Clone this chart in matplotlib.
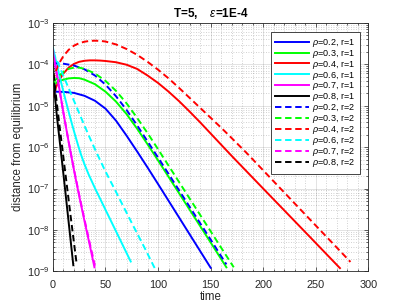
import matplotlib
matplotlib.use("Agg")
import matplotlib.pyplot as plt
from matplotlib.ticker import MultipleLocator, LogLocator, NullFormatter
import numpy as np

plt.rcParams['font.family'] = ['Liberation Sans', 'DejaVu Sans']
plt.rcParams['mathtext.fontset'] = 'custom'
plt.rcParams['mathtext.rm'] = 'Liberation Sans'
plt.rcParams['mathtext.it'] = 'Liberation Sans:italic'

# ---- data: time and log10(distance from equilibrium) ----
labels = [r"$\rho$=0.2, r=1", r"$\rho$=0.3, r=1", r"$\rho$=0.4, r=1",
          r"$\rho$=0.6, r=1", r"$\rho$=0.7, r=1", r"$\rho$=0.8, r=1",
          r"$\rho$=0.2, r=2", r"$\rho$=0.3, r=2", r"$\rho$=0.4, r=2",
          r"$\rho$=0.6, r=2", r"$\rho$=0.7, r=2", r"$\rho$=0.8, r=2"]

t_b1 = [0, 10, 20, 30, 40, 50, 60, 70, 80, 90, 100, 125, 150]
e_b1 = [-4.66, -4.665, -4.69, -4.76, -4.88, -5.07, -5.36, -5.72, -6.10, -6.49, -6.89, -7.90, -8.91]

t_g1 = [0, 5, 10, 15, 20, 25, 30, 40, 50, 60, 70, 80, 90, 100, 125, 150, 165]
e_g1 = [-4.50, -4.42, -4.37, -4.34, -4.33, -4.335, -4.37, -4.48, -4.66, -4.90, -5.20, -5.55, -5.93, -6.32, -7.31, -8.30, -8.90]

t_r1 = [0, 3, 6, 10, 15, 20, 25, 30, 35, 40, 45, 50, 60, 70, 80, 90, 100, 110, 120, 130, 140, 150, 160, 170, 200, 240, 273]
e_r1 = [-4.78, -4.55, -4.38, -4.22, -4.08, -3.99, -3.94, -3.915, -3.905, -3.905, -3.91, -3.92, -3.95, -4.01, -4.11,
        -4.27, -4.45, -4.66, -4.89, -5.14, -5.40, -5.67, -5.94, -6.21, -7.00, -8.05, -8.92]

t_c1 = [0, 3, 6, 9, 12, 15, 18, 21, 24, 27, 30, 34, 40, 50, 60, 74]
e_c1 = [-3.60, -3.93, -4.25, -4.56, -4.86, -5.15, -5.43, -5.70, -5.96, -6.20, -6.41, -6.66, -6.99, -7.51, -8.03, -8.76]

t_m1 = [0, 5, 10, 15, 20, 25, 30, 35, 39.5]
e_m1 = [-3.65, -4.42, -5.17, -5.88, -6.55, -7.18, -7.78, -8.36, -8.90]

t_k1 = [0, 1, 2, 4, 6, 8, 10, 13, 16, 19.4]
e_k1 = [-4.00, -4.45, -4.80, -5.30, -5.75, -6.20, -6.65, -7.35, -8.05, -8.85]

t_b2 = [0, 10, 20, 30, 40, 50, 60, 70, 80, 90, 100, 125, 150, 165]
e_b2 = [-3.97, -3.985, -4.03, -4.12, -4.27, -4.49, -4.77, -5.10, -5.47, -5.86, -6.25, -7.24, -8.23, -8.83]

t_g2 = [0, 5, 10, 15, 20, 25, 30, 40, 50, 60, 70, 80, 90, 100, 125, 150, 172]
e_g2 = [-4.45, -4.30, -4.18, -4.11, -4.08, -4.08, -4.11, -4.22, -4.40, -4.64, -4.94, -5.29, -5.66, -6.05, -7.04, -8.03, -8.90]

t_r2 = [0, 3, 6, 10, 15, 20, 25, 30, 35, 40, 45, 50, 60, 70, 80, 90, 100, 110, 120, 130, 140, 150, 160, 170, 185, 230, 283]
e_r2 = [-4.40, -4.15, -3.97, -3.80, -3.65, -3.55, -3.49, -3.455, -3.435, -3.43, -3.435, -3.45, -3.52, -3.63, -3.77,
        -3.94, -4.13, -4.34, -4.57, -4.81, -5.05, -5.29, -5.53, -5.78, -6.16, -7.36, -8.77]

t_c2 = [0, 5, 10, 15, 20, 25, 30, 35, 40, 45, 49.5, 60, 75, 87.6, 97]
e_c2 = [-3.70, -3.98, -4.28, -4.58, -4.88, -5.18, -5.48, -5.77, -6.05, -6.32, -6.56, -7.08, -7.83, -8.45, -8.93]

t_m2 = [0, 5, 10, 15, 20, 25, 30, 35, 40]
e_m2 = [-3.70, -4.44, -5.17, -5.87, -6.53, -7.15, -7.74, -8.31, -8.86]

t_k2 = [0, 1, 2, 4, 6, 8, 10, 13, 16, 19, 22.5]
e_k2 = [-4.00, -4.30, -4.55, -5.00, -5.42, -5.84, -6.25, -6.87, -7.49, -8.10, -8.80]

times = [t_b1, t_g1, t_r1, t_c1, t_m1, t_k1, t_b2, t_g2, t_r2, t_c2, t_m2, t_k2]
exps = [e_b1, e_g1, e_r1, e_c1, e_m1, e_k1, e_b2, e_g2, e_r2, e_c2, e_m2, e_k2]
colors = ["#0000ff", "#00ff00", "#ff0000", "#00ffff", "#ff00ff", "#000000"] * 2
styles = ["-"] * 6 + [(0, (3.3, 1.9))] * 6

xticks = [0, 50, 100, 150, 200, 250, 300]

fig = plt.figure(figsize=(4.07, 3.05), dpi=100)
ax = fig.add_axes([0.13, 0.11, 0.775, 0.815])

ax_col = "#262626"
for t, e, c, ls, lab in zip(times, exps, colors, styles, labels):
    ax.semilogy(t, 10.0 ** np.asarray(e), color=c, linestyle=ls, linewidth=1.4, label=lab)

ax.set_xlim(0, 300)
ax.set_ylim(1e-9, 1e-3)
ax.set_xticks(xticks)
ax.xaxis.set_minor_locator(MultipleLocator(10))
ax.yaxis.set_major_locator(LogLocator(base=10, numticks=20))
ax.yaxis.set_minor_locator(LogLocator(base=10, subs=np.arange(2, 10), numticks=100))
ax.yaxis.set_minor_formatter(NullFormatter())

ax.grid(True, which="major", color=ax_col, alpha=0.15, linewidth=0.6, linestyle="-")
ax.grid(True, which="minor", color=ax_col, alpha=0.28, linewidth=0.6, linestyle=(0, (1, 2)))
ax.set_axisbelow(True)

ax.tick_params(which="both", direction="in", top=True, right=True, colors=ax_col,
               labelsize=7.8, width=0.5)
ax.tick_params(axis="x", which="major", pad=5.8)
ax.tick_params(axis="y", which="major", pad=2.5)
ax.tick_params(which="major", length=3)
ax.tick_params(which="minor", length=1.6)
for s in ax.spines.values():
    s.set_color(ax_col)
    s.set_linewidth(0.6)

ax.set_title(r"T=5,    $\epsilon$=1E-4", fontsize=8.5, fontweight="bold", pad=4.5)
ax.set_xlabel("time", fontsize=8.3, color=ax_col, labelpad=1.0)
ax.set_ylabel("distance from equilibrium", fontsize=8.3, color=ax_col, labelpad=2)

leg = ax.legend(loc="upper right", bbox_to_anchor=(0.975, 0.964), borderaxespad=0,
                fontsize=6.5, handlelength=3.7, handletextpad=0.4, labelspacing=-0.12,
                fancybox=False, framealpha=1, edgecolor=ax_col, borderpad=0.55)
leg.get_frame().set_linewidth(0.6)

fig.savefig("out.png", dpi=100)
